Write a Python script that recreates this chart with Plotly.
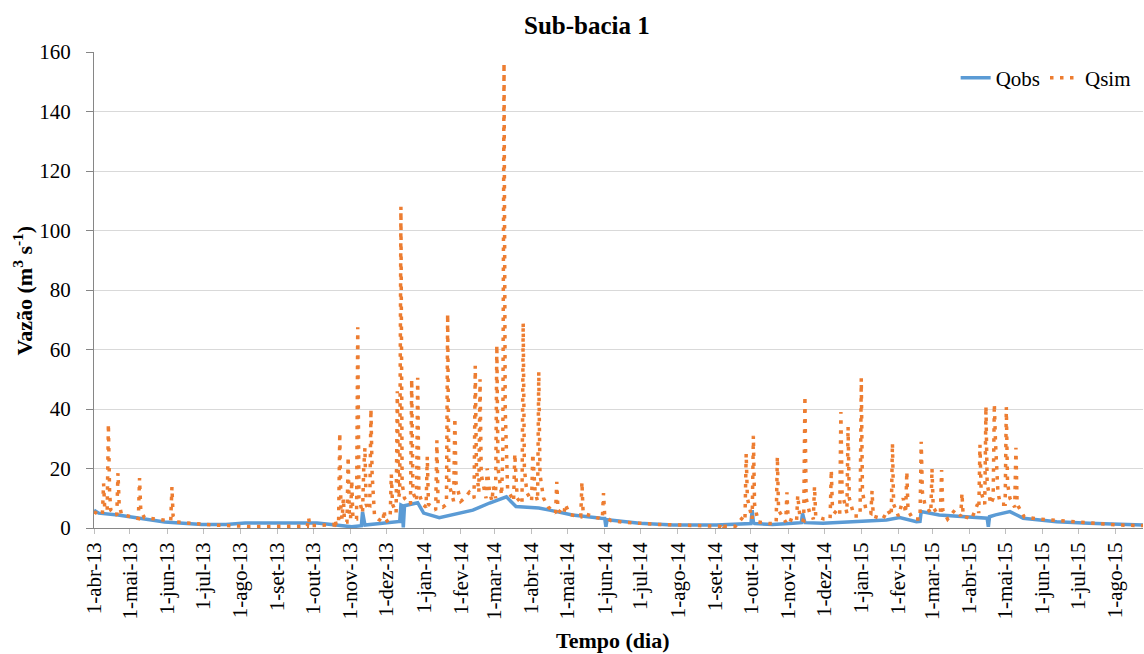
import plotly.graph_objects as go

# ---------------- data ----------------
qobs_dates = [
    "2013-04-01", "2013-04-05", "2013-04-21", "2013-05-15", "2013-05-30", "2013-06-30",
    "2013-07-20", "2013-08-05", "2013-10-04", "2013-10-16", "2013-11-02", "2013-11-10",
    "2013-11-11", "2013-11-13", "2013-11-29", "2013-12-12", "2013-12-13", "2013-12-14",
    "2013-12-15", "2013-12-16", "2013-12-27", "2014-01-01", "2014-01-14", "2014-02-11",
    "2014-02-25", "2014-03-11", "2014-03-19", "2014-04-07", "2014-04-16", "2014-05-05",
    "2014-05-29", "2014-06-01", "2014-06-02", "2014-06-03", "2014-06-30", "2014-07-28",
    "2014-09-02", "2014-09-21", "2014-10-01", "2014-10-02", "2014-10-03", "2014-10-04",
    "2014-10-19", "2014-11-05", "2014-11-12", "2014-11-13", "2014-11-15", "2014-11-30",
    "2014-12-28", "2015-01-22", "2015-02-02", "2015-02-16", "2015-02-19", "2015-02-20",
    "2015-03-07", "2015-04-01", "2015-04-15", "2015-04-16", "2015-04-17", "2015-04-18",
    "2015-04-23", "2015-05-05", "2015-05-16", "2015-06-13", "2015-07-10", "2015-08-24",
]
qobs_values = [
    6.0, 5.0, 4.4, 3.0, 2.0, 1.2,
    1.2, 1.7, 1.7, 1.2, 0.4, 0.8,
    5.4, 1.0, 1.7, 2.2, 7.7, 7.5,
    0.2, 7.5, 8.5, 5.0, 3.5, 6.0,
    8.4, 10.5, 7.2, 6.7, 6.0, 4.4,
    3.3, 3.2, 0.4, 2.8, 1.6, 1.0,
    1.0, 1.2, 1.5, 6.0, 2.0, 1.5,
    1.2, 1.6, 1.8, 4.9, 1.8, 1.6,
    2.1, 2.7, 3.5, 2.1, 2.2, 5.5,
    4.4, 3.6, 3.3, 3.3, 0.4, 3.8,
    4.4, 5.5, 3.3, 2.1, 1.6, 1.0,
]

qsim_dates = [
    "2013-04-01", "2013-04-05", "2013-04-08", "2013-04-09", "2013-04-10", "2013-04-12",
    "2013-04-13", "2013-04-14", "2013-04-15", "2013-04-20", "2013-04-21", "2013-04-22",
    "2013-04-24", "2013-05-08", "2013-05-09", "2013-05-10", "2013-05-13", "2013-06-04",
    "2013-06-05", "2013-06-06", "2013-06-09", "2013-06-20", "2013-07-10", "2013-08-09",
    "2013-09-18", "2013-09-26", "2013-09-27", "2013-09-28", "2013-10-13", "2013-10-18",
    "2013-10-19", "2013-10-20", "2013-10-22", "2013-10-23", "2013-10-24", "2013-10-25",
    "2013-10-26", "2013-10-27", "2013-10-29", "2013-10-30", "2013-10-31", "2013-11-01",
    "2013-11-02", "2013-11-03", "2013-11-06", "2013-11-07", "2013-11-08", "2013-11-10",
    "2013-11-11", "2013-11-12", "2013-11-13", "2013-11-14", "2013-11-16", "2013-11-17",
    "2013-11-18", "2013-11-19", "2013-11-21", "2013-11-24", "2013-11-28", "2013-11-29",
    "2013-11-30", "2013-12-04", "2013-12-05", "2013-12-06", "2013-12-09", "2013-12-10",
    "2013-12-11", "2013-12-12", "2013-12-13", "2013-12-14", "2013-12-16", "2013-12-21",
    "2013-12-22", "2013-12-23", "2013-12-26", "2013-12-27", "2013-12-28", "2013-12-31",
    "2014-01-03", "2014-01-04", "2014-01-05", "2014-01-11", "2014-01-12", "2014-01-13",
    "2014-01-17", "2014-01-20", "2014-01-21", "2014-01-22", "2014-01-26", "2014-01-27",
    "2014-01-28", "2014-02-01", "2014-02-04", "2014-02-08", "2014-02-12", "2014-02-13",
    "2014-02-14", "2014-02-16", "2014-02-17", "2014-02-18", "2014-02-22", "2014-02-23",
    "2014-02-25", "2014-02-27", "2014-02-28", "2014-03-02", "2014-03-03", "2014-03-04",
    "2014-03-07", "2014-03-08", "2014-03-09", "2014-03-10", "2014-03-12", "2014-03-17",
    "2014-03-18", "2014-03-20", "2014-03-24", "2014-03-25", "2014-03-26", "2014-03-28",
    "2014-04-01", "2014-04-02", "2014-04-04", "2014-04-06", "2014-04-07", "2014-04-08",
    "2014-04-11", "2014-04-15", "2014-04-21", "2014-04-22", "2014-04-23", "2014-04-28",
    "2014-04-29", "2014-05-03", "2014-05-12", "2014-05-13", "2014-05-14", "2014-05-25",
    "2014-05-30", "2014-05-31", "2014-06-01", "2014-06-06", "2014-06-15", "2014-07-15",
    "2014-08-15", "2014-09-05", "2014-09-06", "2014-09-08", "2014-09-18", "2014-09-25",
    "2014-09-26", "2014-09-27", "2014-09-28", "2014-10-02", "2014-10-03", "2014-10-04",
    "2014-10-07", "2014-10-16", "2014-10-22", "2014-10-23", "2014-10-24", "2014-10-30",
    "2014-10-31", "2014-11-01", "2014-11-08", "2014-11-09", "2014-11-11", "2014-11-14",
    "2014-11-15", "2014-11-16", "2014-11-19", "2014-11-22", "2014-11-23", "2014-11-24",
    "2014-12-01", "2014-12-06", "2014-12-07", "2014-12-08", "2014-12-14", "2014-12-15",
    "2014-12-16", "2014-12-20", "2014-12-21", "2014-12-22", "2014-12-26", "2014-12-31",
    "2015-01-01", "2015-01-02", "2015-01-05", "2015-01-09", "2015-01-10", "2015-01-11",
    "2015-01-19", "2015-01-23", "2015-01-26", "2015-01-27", "2015-01-28", "2015-02-01",
    "2015-02-05", "2015-02-07", "2015-02-08", "2015-02-09", "2015-02-13", "2015-02-19",
    "2015-02-20", "2015-02-21", "2015-02-23", "2015-02-28", "2015-03-01", "2015-03-02",
    "2015-03-05", "2015-03-08", "2015-03-09", "2015-03-10", "2015-03-14", "2015-03-20",
    "2015-03-25", "2015-03-26", "2015-03-27", "2015-04-03", "2015-04-08", "2015-04-09",
    "2015-04-10", "2015-04-11", "2015-04-14", "2015-04-15", "2015-04-16", "2015-04-19",
    "2015-04-21", "2015-04-22", "2015-04-23", "2015-04-25", "2015-04-27", "2015-05-01",
    "2015-05-02", "2015-05-03", "2015-05-05", "2015-05-09", "2015-05-10", "2015-05-11",
    "2015-05-17", "2015-05-30", "2015-06-15", "2015-07-02", "2015-07-19", "2015-08-04",
    "2015-08-24",
]
qsim_values = [
    5.5, 4.5, 4.5, 15, 6, 6,
    35, 12, 6, 4.2, 18.5, 8,
    4.5, 3.2, 16.8, 6, 3.5, 2.4,
    13.8, 4, 2, 1.6, 1.0, 0.5,
    0.5, 0.6, 3.5, 0.8, 1.0, 1.0,
    3, 1, 1.2, 32, 6, 3,
    10, 2, 2, 24, 4, 3,
    16, 3, 3, 67.5, 10, 6,
    5, 20, 27, 8, 6, 7,
    40, 18, 4, 3, 2, 6,
    2, 3, 18, 8, 5, 46,
    10, 12, 108, 15, 10, 8,
    50, 12, 9, 50.5, 12, 8,
    7, 24, 8, 6, 29.5, 8,
    7, 8, 72, 15, 9, 37,
    15, 9, 10, 12, 10, 54.5,
    20, 12, 50, 18, 10, 20,
    12, 9, 14, 10, 61.5, 20,
    11, 25, 156.3, 40, 13, 9,
    25, 10, 8, 69, 20, 12,
    9, 25, 12, 9, 52.5, 18,
    10, 7, 5, 15.5, 6, 4.5,
    8, 4.5, 3.8, 15.5, 5, 3.5,
    3, 11.7, 4, 2.5, 2, 1.2,
    0.8, 0.6, 1.8, 0.6, 0.6, 4,
    3, 25, 10, 3, 31, 8,
    2, 1.5, 1.5, 24, 6, 2,
    12, 3, 2, 11, 3, 2.5,
    44.4, 10, 5, 3, 14, 4,
    3, 3, 19.5, 6, 4, 39,
    12, 5, 34, 10, 4, 4,
    50.3, 12, 6, 5, 12.5, 4,
    3, 6, 4, 28.5, 8, 4,
    10, 5, 19, 6, 3, 3,
    29, 12, 8, 5, 20, 7,
    5, 5, 19.5, 6, 3, 6,
    4, 11.7, 4, 3, 8, 5,
    28, 12, 8, 41, 15, 8,
    10, 41.7, 28.5, 12, 8, 8,
    40.7, 15, 10, 7, 27, 8,
    3.7, 3, 2.5, 2, 1.5, 1,
    0.8,
]

tick_dates = [
    "2013-04-01", "2013-05-01", "2013-06-01", "2013-07-01", "2013-08-01", "2013-09-01",
    "2013-10-01", "2013-11-01", "2013-12-01", "2014-01-01", "2014-02-01", "2014-03-01",
    "2014-04-01", "2014-05-01", "2014-06-01", "2014-07-01", "2014-08-01", "2014-09-01",
    "2014-10-01", "2014-11-01", "2014-12-01", "2015-01-01", "2015-02-01", "2015-03-01",
    "2015-04-01", "2015-05-01", "2015-06-01", "2015-07-01", "2015-08-01",
]
tick_labels = [
    "1-abr-13", "1-mai-13", "1-jun-13", "1-jul-13", "1-ago-13", "1-set-13",
    "1-out-13", "1-nov-13", "1-dez-13", "1-jan-14", "1-fev-14", "1-mar-14",
    "1-abr-14", "1-mai-14", "1-jun-14", "1-jul-14", "1-ago-14", "1-set-14",
    "1-out-14", "1-nov-14", "1-dez-14", "1-jan-15", "1-fev-15", "1-mar-15",
    "1-abr-15", "1-mai-15", "1-jun-15", "1-jul-15", "1-ago-15",
]
y_ticks = [0, 20, 40, 60, 80, 100, 120, 140, 160]

# ---------------- figure ----------------
FONT = "Liberation Serif"
BLUE = "#5B9BD5"
ORANGE = "#ED7D31"

fig = go.Figure()
fig.add_trace(go.Scatter(
    x=qobs_dates, y=qobs_values, mode="lines", name="Qobs",
    line=dict(color=BLUE, width=3.5),
))
fig.add_trace(go.Scatter(
    x=qsim_dates, y=qsim_values, mode="lines", name="Qsim",
    line=dict(color=ORANGE, width=3.5, dash="3.5px,6.5px"),
))

fig.update_layout(
    width=1144, height=654,
    margin=dict(l=94, r=1, t=52, b=126, autoexpand=False),
    paper_bgcolor="white", plot_bgcolor="white",
    font=dict(family=FONT, size=21, color="#000000"),
    showlegend=True,
    legend=dict(
        orientation="h", x=0.993, xanchor="right", y=0.945, yanchor="middle",
        font=dict(family=FONT, size=21, color="#000000"),
        bgcolor="rgba(0,0,0,0)", traceorder="normal",
    ),
    annotations=[
        dict(text="<b>Sub-bacia 1</b>", xref="paper", yref="paper",
             x=0.4698, y=1.0567, xanchor="center", yanchor="middle",
             showarrow=False, font=dict(family=FONT, size=25, color="#000000")),
        dict(text="<b>Tempo (dia)</b>", xref="paper", yref="paper",
             x=0.4946, y=-0.2353, xanchor="center", yanchor="middle",
             showarrow=False, font=dict(family=FONT, size=22, color="#000000")),
        dict(text="<b>Vazão (m<sup>3</sup> s<sup>-1</sup>)</b>", xref="paper", yref="paper",
             x=-0.068, y=0.498, xanchor="center", yanchor="middle", textangle=-90,
             showarrow=False, font=dict(family=FONT, size=22, color="#000000")),
    ],
)

fig.update_xaxes(
    type="date", range=["2013-04-01", "2015-08-24"],
    tickmode="array", tickvals=tick_dates, ticktext=tick_labels,
    tickangle=-90, ticks="outside", ticklen=5, tickcolor="#BFBFBF",
    showline=True, linecolor="#868686", linewidth=1,
    showgrid=False, zeroline=False, automargin=False,
    tickfont=dict(family=FONT, size=21, color="#000000"),
)
fig.update_yaxes(
    range=[0, 160], tickmode="array", tickvals=y_ticks,
    ticks="outside", ticklen=7, tickcolor="#868686",
    showline=True, linecolor="#868686", linewidth=1,
    showgrid=True, gridcolor="#D9D9D9", gridwidth=1, zeroline=False,
    ticklabelstandoff=11, automargin=False,
    tickfont=dict(family=FONT, size=21, color="#000000"),
)

fig.write_html(
    "out.html",
    config={"displayModeBar": False},
    post_script="document.body.style.margin='0';document.body.style.overflow='hidden';",
)
